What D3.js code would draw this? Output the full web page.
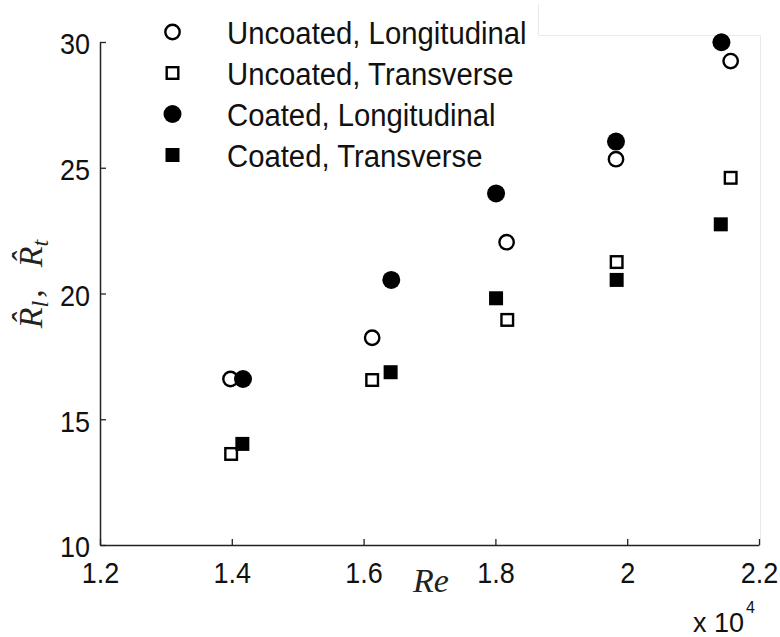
<!DOCTYPE html>
<html>
<head>
<meta charset="utf-8">
<script src="https://cdn.jsdelivr.net/npm/d3@7"></script>
<style>
  html, body { margin: 0; padding: 0; background: #fff; }
  svg { display: block; }
  .sans { font-family: "Liberation Sans", Arial, Helvetica, sans-serif; fill: #111; }
  .stretch { transform-box: fill-box; transform-origin: center; transform: scaleY(1.1); }
</style>
</head>
<body>
<svg id="chart" width="780" height="637"></svg>
<script>
// Reynolds number (in units of 10^4) and normalised resistance for each run
const uncoatedLongRe   = [1.398, 1.613, 1.817, 1.983, 2.157];
const uncoatedLongR    = [16.60, 18.24, 22.04, 25.34, 29.24];
const uncoatedTransRe  = [1.399, 1.613, 1.818, 1.984, 2.157];
const uncoatedTransR   = [13.62, 16.56, 18.95, 21.25, 24.60];
const coatedLongRe     = [1.417, 1.642, 1.801, 1.983, 2.143];
const coatedLongR      = [16.60, 20.54, 23.98, 26.04, 29.99];
const coatedTransRe    = [1.416, 1.641, 1.801, 1.984, 2.142];
const coatedTransR     = [14.02, 16.87, 19.81, 20.54, 22.75];

const seriesNames = ["Uncoated, Longitudinal", "Uncoated, Transverse",
                     "Coated, Longitudinal", "Coated, Transverse"];

const xTicks = [1.2, 1.4, 1.6, 1.8, 2.0, 2.2];
const xTickLabels = ["1.2", "1.4", "1.6", "1.8", "2", "2.2"];
const yTicks = [10, 15, 20, 25, 30];
const yTickLabels = ["10", "15", "20", "25", "30"];

const series = [
  { name: seriesNames[0], re: uncoatedLongRe,  r: uncoatedLongR,  shape: "circle", filled: false },
  { name: seriesNames[1], re: uncoatedTransRe, r: uncoatedTransR, shape: "square", filled: false },
  { name: seriesNames[2], re: coatedLongRe,    r: coatedLongR,    shape: "circle", filled: true },
  { name: seriesNames[3], re: coatedTransRe,   r: coatedTransR,   shape: "square", filled: true }
];

const svg = d3.select("#chart");

const x = d3.scaleLinear().domain([1.2, 2.2]).range([100, 759]);
const y = d3.scaleLinear().domain([10, 30]).range([545, 42]);

// faint frame left over around the upper-right corner
const faint = svg.append("g").attr("stroke", "#e9e9e9").attr("stroke-width", 1).attr("fill", "none");
faint.append("path").attr("d", "M538.5,4 V35.5 H760.5 V545");

// axes: MATLAB-style inward ticks, no box
const xAxis = d3.axisBottom(x)
  .tickValues(xTicks)
  .tickFormat((d, i) => xTickLabels[i])
  .tickSizeInner(-6).tickSizeOuter(0).tickPadding(18);
const yAxis = d3.axisLeft(y)
  .tickValues(yTicks)
  .tickFormat((d, i) => yTickLabels[i])
  .tickSizeInner(-6).tickSizeOuter(0).tickPadding(10);

const gx = svg.append("g").attr("transform", `translate(0,${y(10)})`).call(xAxis);
const gy = svg.append("g").attr("transform", `translate(${x(1.2)},0)`).call(yAxis);

[gx, gy].forEach(g => {
  g.select(".domain").attr("stroke", "#222").attr("stroke-width", 1.5);
  g.selectAll(".tick line").attr("stroke", "#222").attr("stroke-width", 1.3);
  g.selectAll(".tick text")
    .attr("class", "sans stretch")
    .attr("font-size", 27)
    .attr("fill", "#111");
});
gy.selectAll(".tick text").attr("dy", "0.4em");

// markers
function drawMarker(g, shape, filled, cx, cy) {
  if (shape === "circle") {
    if (filled) {
      g.append("circle").attr("cx", cx).attr("cy", cy).attr("r", 9).attr("fill", "#000");
    } else {
      g.append("circle").attr("cx", cx).attr("cy", cy).attr("r", 7.2)
        .attr("fill", "none").attr("stroke", "#000").attr("stroke-width", 2.4);
    }
  } else {
    if (filled) {
      g.append("rect").attr("x", cx - 7).attr("y", cy - 7).attr("width", 14).attr("height", 14).attr("fill", "#000");
    } else {
      g.append("rect").attr("x", cx - 5.8).attr("y", cy - 5.8).attr("width", 11.6).attr("height", 11.6)
        .attr("fill", "none").attr("stroke", "#000").attr("stroke-width", 2.4);
    }
  }
}

const marks = svg.append("g");
series.forEach(s => {
  const g = marks.append("g");
  s.re.forEach((re, i) => drawMarker(g, s.shape, s.filled, x(re), y(s.r[i])));
});

// legend
const legend = svg.append("g");
const legendRows = [32, 73, 114, 155];
series.forEach((s, i) => {
  drawMarker(legend, s.shape, s.filled, 172.5, legendRows[i]);
  legend.append("text")
    .attr("class", "sans stretch")
    .attr("x", 227).attr("y", legendRows[i] + 11)
    .attr("font-size", 29.3)
    .text(s.name);
});

// axis titles
svg.append("text")
  .attr("x", 431).attr("y", 592)
  .attr("text-anchor", "middle")
  .attr("font-family", "'Liberation Serif', 'Times New Roman', serif")
  .attr("font-style", "italic")
  .attr("font-size", 34)
  .attr("fill", "#222")
  .text("Re");

const yl = svg.append("text")
  .attr("transform", "translate(42,284) rotate(-90)")
  .attr("text-anchor", "middle")
  .attr("font-family", "'Liberation Serif', 'Times New Roman', serif")
  .attr("font-style", "italic")
  .attr("font-size", 34)
  .attr("fill", "#222");
yl.append("tspan").text("R\u0302");
yl.append("tspan").attr("font-size", 24).attr("dy", 6).text("l");
yl.append("tspan").attr("dy", -6).attr("dx", 3).attr("font-style", "normal").text(",");
yl.append("tspan").attr("dx", 22).text("R\u0302");
yl.append("tspan").attr("font-size", 24).attr("dy", 6).text("t");

// exponent of the Re axis
const mult = svg.append("text")
  .attr("class", "sans")
  .attr("x", 693).attr("y", 632)
  .attr("font-size", 27)
  .attr("fill", "#111");
mult.append("tspan").text("x 10");
mult.append("tspan").attr("font-size", 16).attr("dy", -19).attr("dx", 2).text("4");
</script>
</body>
</html>
